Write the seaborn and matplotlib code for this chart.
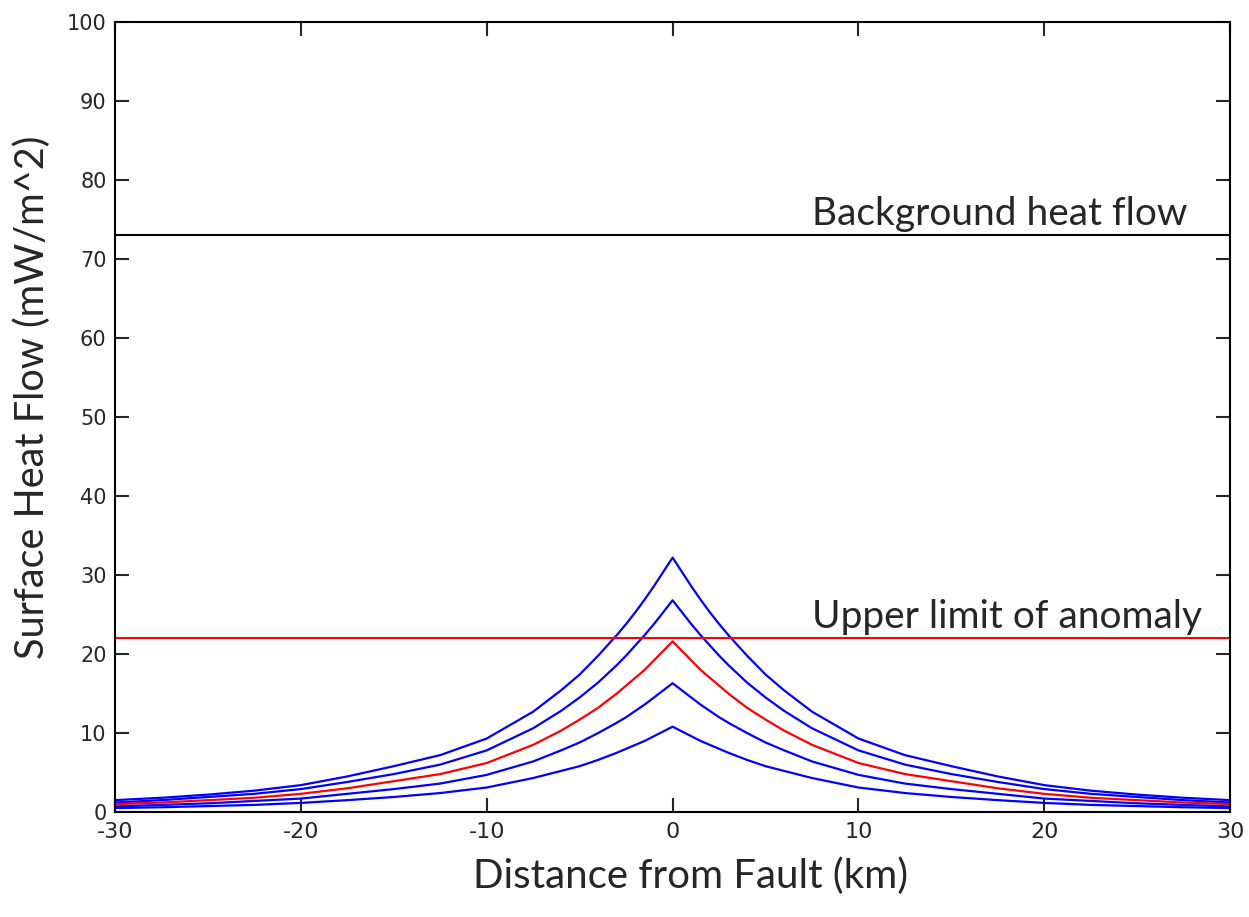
import numpy as np
import pandas as pd
import matplotlib
matplotlib.use('Agg')
import matplotlib.pyplot as plt
import seaborn as sns

# distance from fault (km)
half_x = [0, 0.5, 1, 1.5, 2, 2.5, 3, 4, 5, 6, 7.5, 10, 12.5, 15, 17.5, 20, 22.5, 25, 27.5, 30]

# surface heat flow per model run (mW/m^2), values at half_x, symmetric about the fault
q_run1 = [32.2, 30.4, 28.6, 26.9, 25.3, 23.8, 22.4, 19.8, 17.4, 15.4, 12.7, 9.3, 7.2, 5.8, 4.5, 3.4, 2.7, 2.2, 1.8, 1.5]
q_run2 = [26.8, 25.3, 23.8, 22.4, 21.1, 19.8, 18.6, 16.4, 14.5, 12.8, 10.6, 7.8, 6.0, 4.8, 3.8, 2.9, 2.3, 1.9, 1.5, 1.2]
q_run3 = [21.6, 20.4, 19.2, 18.0, 17.0, 16.0, 15.0, 13.2, 11.7, 10.3, 8.5, 6.2, 4.8, 3.9, 3.0, 2.3, 1.8, 1.5, 1.2, 1.0]
q_run4 = [16.3, 15.4, 14.5, 13.6, 12.8, 12.0, 11.3, 10.0, 8.8, 7.8, 6.4, 4.7, 3.6, 2.9, 2.3, 1.7, 1.4, 1.1, 0.9, 0.7]
q_run5 = [10.8, 10.2, 9.6, 9.0, 8.5, 8.0, 7.5, 6.6, 5.8, 5.2, 4.3, 3.1, 2.4, 1.9, 1.5, 1.15, 0.9, 0.75, 0.6, 0.5]

run_names = ['run1', 'run2', 'run3', 'run4', 'run5']
run_colors = ['#0000ff', '#0000ff', '#ff0000', '#0000ff', '#0000ff']

background_q = 73
anomaly_limit = 22

x_ticks = [-30, -20, -10, 0, 10, 20, 30]
y_ticks = [0, 10, 20, 30, 40, 50, 60, 70, 80, 90, 100]

# mirror to both sides of the fault
rows = []
for name, q in zip(run_names, [q_run1, q_run2, q_run3, q_run4, q_run5]):
    for xv, qv in zip(half_x[::-1], q[::-1]):
        rows.append({'run': name, 'x': -xv, 'q': qv})
    for xv, qv in zip(half_x[1:], q[1:]):
        rows.append({'run': name, 'x': xv, 'q': qv})
df = pd.DataFrame(rows)

sns.set_style('ticks')
plt.rcParams['font.family'] = ['DejaVu Sans']
plt.rcParams['axes.unicode_minus'] = False

fig = plt.figure(figsize=(12.49, 9.17), dpi=100)
ax = fig.add_axes([0.092, 0.1145, 0.893, 0.8615])

sns.lineplot(data=df, x='x', y='q', hue='run', palette=run_colors,
             hue_order=run_names, linewidth=1.6, legend=False, ax=ax, sort=False)

ax.axhline(background_q, color='black', linewidth=1.5)
ax.axhline(anomaly_limit, color='#ff0000', linewidth=1.5)

label_font = ['Lato', 'DejaVu Sans']
ax.text(7.5, background_q + 1.3, 'Background heat flow', fontsize=28,
        family=label_font, ha='left', va='baseline')
ax.text(7.5, anomaly_limit + 1.3, 'Upper limit of anomaly', fontsize=28,
        family=label_font, ha='left', va='baseline')

ax.set_xlim(-30, 30)
ax.set_ylim(0, 100)
ax.set_xticks(x_ticks)
ax.set_yticks(y_ticks)
ax.tick_params(direction='in', length=10, width=1.5, top=True, right=True, pad=6)
ax.tick_params(axis='x', labelsize=16, pad=7)
ax.tick_params(axis='y', labelsize=15)
for s in ax.spines.values():
    s.set_visible(True)
    s.set_linewidth(1.5)
    s.set_color('black')

ax.set_xlabel('Distance from Fault (km)', fontsize=29, family=label_font)
ax.set_ylabel('Surface Heat Flow (mW/m^2)', fontsize=28.5, family=label_font)
ax.xaxis.set_label_coords(0.516, -0.057)
ax.yaxis.set_label_coords(-0.057, 0.525)

fig.savefig('out.png', dpi=100)
